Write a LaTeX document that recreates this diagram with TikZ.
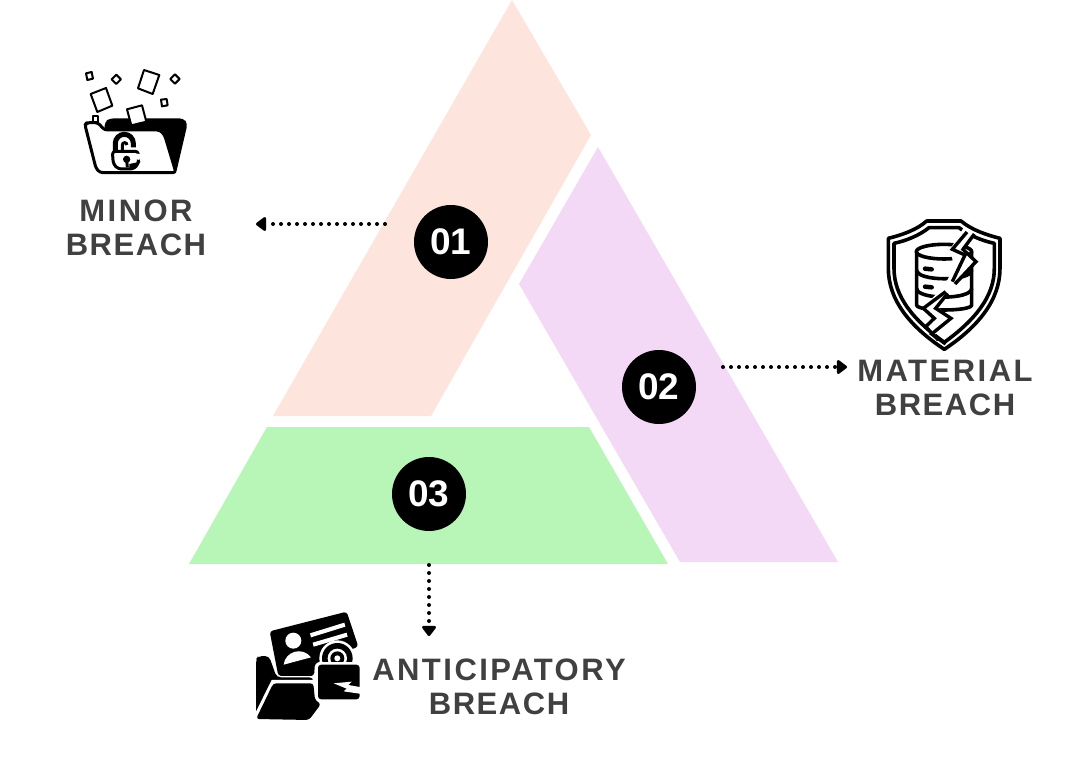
\documentclass[tikz,border=0pt]{standalone}
\usepackage{fontspec}
\newfontfamily\lblfont[LetterSpace=8]{Liberation Sans}
\newfontfamily\lblnarrow[LetterSpace=5]{Liberation Sans}
\newfontfamily\numfont{Liberation Sans}
\usetikzlibrary{arrows.meta}
\definecolor{peach}{HTML}{FDE4DD}
\definecolor{lilac}{HTML}{F3D9F5}
\definecolor{mint}{HTML}{B8F6B8}
\definecolor{lbl}{HTML}{404040}
\tikzset{
  x=1pt,y=-1pt,
  numdot/.style={circle,fill=black,text=white,minimum size=74pt,inner sep=0pt,font=\numfont\bfseries\fontsize{37}{37}\selectfont},
  lead/.style={line width=4pt,line cap=round,dash pattern=on 0pt off 8pt,-{Triangle[length=11pt,width=16pt,round]}},
  caption/.style={text=lbl,align=center,inner sep=0pt,font=\lblfont\bfseries\fontsize{31}{34.5}\selectfont},
  ink/.style={line width=3pt,line join=round,draw=black},
  inkthin/.style={line width=2pt,line join=round,draw=black},
  shieldline/.style={line width=3.6pt,line join=round},
}
\begin{document}
\begin{tikzpicture}
\useasboundingbox (0,0) rectangle (1080,758);
% pyramid segments
\fill[peach] (512,0) -- (591,135) -- (431,416) -- (273,416) -- cycle;
\fill[lilac] (598,147) -- (838,562) -- (680,562) -- (519,284) -- cycle;
\fill[mint] (267,427) -- (589,427) -- (668,564) -- (189,564) -- cycle;
% number badges
\node[numdot] (n1) at (451,242) {01};
\node[numdot] (n2) at (659,387) {02};
\node[numdot] (n3) at (429,494) {03};
% captions
\node[caption] (c1) at (136,228) {MINOR\\{\lblnarrow\bfseries BREACH}};
\node[caption] (c2) at (945,388) {MATERIAL\\{\lblnarrow\bfseries BREACH}};
\node[caption] (c3) at (499,687) {ANTICIPATORY\\{\lblnarrow\bfseries BREACH}};
% leaders
\coordinate (a1s) at (385,224); \coordinate (a1e) at (256,224);
\coordinate (a2s) at (723,367); \coordinate (a2e) at (847,367);
\coordinate (a3s) at (429,565); \coordinate (a3e) at (429,636);
\draw[lead] (a1s) -- (a1e);
\draw[lead] (a2s) -- (a2e);
\draw[lead] (a3s) -- (a3e);
% folder icon
\begin{scope}[shift={(70,60)},x=0.3333pt,y=-0.3333pt]
  \foreach \p in {
    {(48,40)--(65,36)--(69,56)--(52,60)},
    {(139,44)--(153,58)--(139,72)--(125,58)},
    {(315,43)--(329,57)--(315,71)--(301,57)},
    {(273,119)--(290,117)--(293,136)--(276,139)}}{
    \draw[inkthin,fill=white] \p -- cycle;}
  \draw[inkthin,fill=white] (62,102) -- (108,84) -- (127,137) -- (82,156) -- cycle;
  \draw[inkthin,fill=white] (222,30) -- (268,45) -- (248,102) -- (204,85) -- cycle;
  \fill[black,rounded corners=4pt] (104,212) -- (104,185) -- (120,175) -- (340,175) -- (353,190) -- (318,340) -- (280,225) -- cycle;
  \draw[inkthin,fill=white] (171,148) -- (216,136) -- (229,185) -- (184,196) -- cycle;
  \draw[inkthin,fill=white] (68,168) rectangle (84,186);
  \draw[ink,fill=white,rounded corners=3pt] (45,195) -- (50,188) -- (84,188) -- (103,210) -- (270,210) -- (284,225) -- (318,338) -- (90,338) -- (78,325) -- cycle;
  % open padlock
  \draw[line width=5pt] (136,275) -- (136,250) arc[start angle=180,end angle=0,x radius=27,y radius=-27] -- (190,262);
  \draw[line width=3pt] (157,272) -- (157,255) arc[start angle=180,end angle=0,x radius=7,y radius=-7];
  \draw[ink,fill=white,rounded corners=3pt] (127,274) -- (205,274) -- (205,312) -- (190,327) -- (145,327) -- (130,312) -- cycle;
  \fill[black] (170,298) circle[radius=11];
  \draw[ink] (170,298) -- (172,322);
  \fill[black] (178,312) -- (212,305) -- (195,327) -- (178,323) -- cycle;
  \fill[white] (190,280) -- (214,282) -- (208,300) -- (192,296) -- cycle;
\end{scope}
% shield icon
\begin{scope}[shift={(875,210)},x=0.3333pt,y=-0.3333pt]
  \draw[shieldline] (155,33) -- (258,33) .. controls (290,60) and (335,75) .. (375,85) -- (375,175) .. controls (375,270) and (310,350) .. (208,418) .. controls (105,350) and (40,270) .. (40,175) -- (40,85) .. controls (80,75) and (125,60) .. (155,33) -- cycle;
  \draw[shieldline] (162,53) -- (252,53) .. controls (280,75) and (320,92) .. (358,100) -- (358,175) .. controls (358,260) and (300,330) .. (208,397) .. controls (115,330) and (57,260) .. (57,175) -- (57,100) .. controls (95,92) and (135,75) .. (162,53) -- cycle;
  % database
  \draw[shieldline,fill=white] (125,125) -- (125,285) .. controls (125,305) and (290,305) .. (290,285) -- (290,125);
  \draw[shieldline] (207,125) ellipse[x radius=83,y radius=22];
  \draw[shieldline] (125,180) .. controls (125,215) and (290,215) .. (290,180);
  \draw[shieldline] (125,235) .. controls (125,270) and (290,270) .. (290,235);
  \draw[line width=4.5pt,line cap=round] (150,176) -- (170,178);
  \draw[line width=4.5pt,line cap=round] (150,230) -- (170,232);
  % crack
  \fill[white] (268,50) -- (300,70) -- (262,118) -- (305,155) -- (240,222) -- (215,250) -- (185,290) -- (230,325) -- (180,375) -- (215,405) -- (190,395) -- (150,350) -- (175,325) -- (140,295) -- (205,232) -- (238,172) -- (225,118) -- cycle;
  \draw[line width=3.4pt,line join=miter] (276,66) -- (232,118) -- (270,135) -- (232,215);
  \draw[line width=3.4pt,line join=miter] (298,72) -- (264,118) -- (303,155) -- (240,222);
  \draw[line width=3.4pt,line join=miter] (212,245) -- (145,295) -- (178,325) -- (152,350) -- (190,390);
  \draw[line width=3.4pt,line join=miter] (218,250) -- (182,295) -- (228,325) -- (170,372) -- (212,402);
\end{scope}
% card and lock icon
\begin{scope}[shift={(245,600)},x=0.3333pt,y=-0.3333pt]
  \fill[black,rounded corners=4pt] (33,350) -- (33,178) -- (40,168) -- (72,168) -- (95,232) -- (205,232) -- (205,300) -- (220,305) -- (190,360) -- (40,360) -- cycle;
  \fill[white] (80,240) -- (215,240) -- (215,300) -- (232,303) -- (195,368) -- (28,368) -- (28,345) -- cycle;
  \fill[black,rounded corners=3pt] (33,357) -- (85,250) -- (205,250) -- (210,300) -- (228,312) -- (192,360) -- cycle;
  \fill[black,rounded corners=3pt] (74,94) -- (305,35) -- (340,140) -- (240,180) -- (210,190) -- (207,228) -- (100,228) -- cycle;
  \fill[white] (195,100) -- (298,68) -- (301,80) -- (198,112) -- cycle;
  \fill[white] (203,128) -- (305,98) -- (308,110) -- (206,140) -- cycle;
  \fill[white] (145,122) circle[radius=24];
  \fill[white] (116,194) .. controls (120,155) and (172,138) .. (198,172) -- cycle;
  \fill[white] (277,175) circle[radius=54];
  \fill[black] (277,175) circle[radius=46];
  \fill[white] (277,175) circle[radius=29];
  \fill[black] (277,175) circle[radius=21];
  \fill[white] (277,175) circle[radius=9];
  \draw[white,line width=2.6pt,fill=black,rounded corners=4pt] (215,190) rectangle (348,302);
  \fill[white] (350,262) -- (310,255) -- (320,245) -- (266,250) -- (305,266) -- (296,274) -- (350,282) -- cycle;
\end{scope}
\end{tikzpicture}
\end{document}
